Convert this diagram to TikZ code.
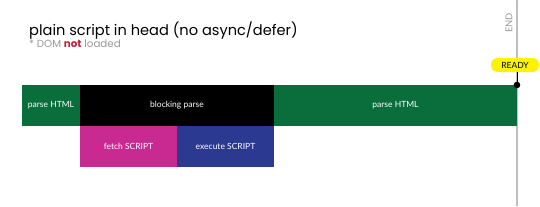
\documentclass[tikz,border=0pt]{standalone}
\usepackage{fontspec}
\setmainfont{Lato}
\newfontfamily\titlefont{Poppins}
\usetikzlibrary{positioning}
\definecolor{htmlgreen}{RGB}{10,110,60}
\definecolor{fetchpink}{RGB}{200,42,145}
\definecolor{execblue}{RGB}{43,57,144}
\definecolor{readyyellow}{RGB}{255,242,0}
\definecolor{notred}{RGB}{192,32,58}
\begin{document}
\begin{tikzpicture}[
      x=1pt, y=-1pt,
      every node/.style={font=\fontsize{8.5}{10}\selectfont, align=center},
      bar/.style={inner sep=0pt, outer sep=0pt, text=white,
                  minimum height=41pt, anchor=north west},
      endline/.style={draw=black!25, line width=1.2pt},
      pill/.style={fill=readyyellow, rounded corners=6.5pt, inner sep=0pt,
                   minimum width=48pt, minimum height=14pt},
  ]
    \useasboundingbox (0,0) rectangle (540,206);

    % Title and note
    \node[anchor=base west, inner sep=0pt, font=\titlefont\fontsize{14.6}{17}\selectfont]
      (title) at (29,35) {plain script in head (no async/defer)};
    \node[anchor=base west, inner sep=0pt, text=black!40,
          font=\titlefont\fontsize{10.3}{12}\selectfont]
      (note) at (29,47) {* DOM \textcolor{notred}{\bfseries not} loaded};

    % End line of the timeline
    \coordinate (endtop) at (517,0);
    \coordinate (endbot) at (517,206);
    \draw[endline] (endtop) -- (endbot);
    \node[rotate=90, text=black!40, font=\fontsize{9.5}{11}\selectfont]
      (end) at (509,23) {END};

    % Row 1: parser
    \node[bar, fill=htmlgreen, minimum width=58pt] (parse1) at (22,85) {parse HTML};
    \node[bar, fill=black, minimum width=194pt, right=0pt of parse1] (block) {blocking parse};
    \node[bar, fill=htmlgreen, minimum width=243pt, right=0pt of block] (parse2) {parse HTML};

    % Row 2: script
    \node[bar, fill=fetchpink, minimum width=97pt] (fetch) at (block.south west) {fetch SCRIPT};
    \node[bar, fill=execblue, minimum width=97pt, right=0pt of fetch] (exec) {execute SCRIPT};

    % DOM ready marker
    \node[pill, font=\fontsize{8.5}{10}\selectfont] (ready) at (515,65) {READY};
    \draw[thick] (parse2.north east) -- (parse2.north east |- ready.south);
    \fill (parse2.north east) circle (3.3pt);
  \end{tikzpicture}
\end{document}
